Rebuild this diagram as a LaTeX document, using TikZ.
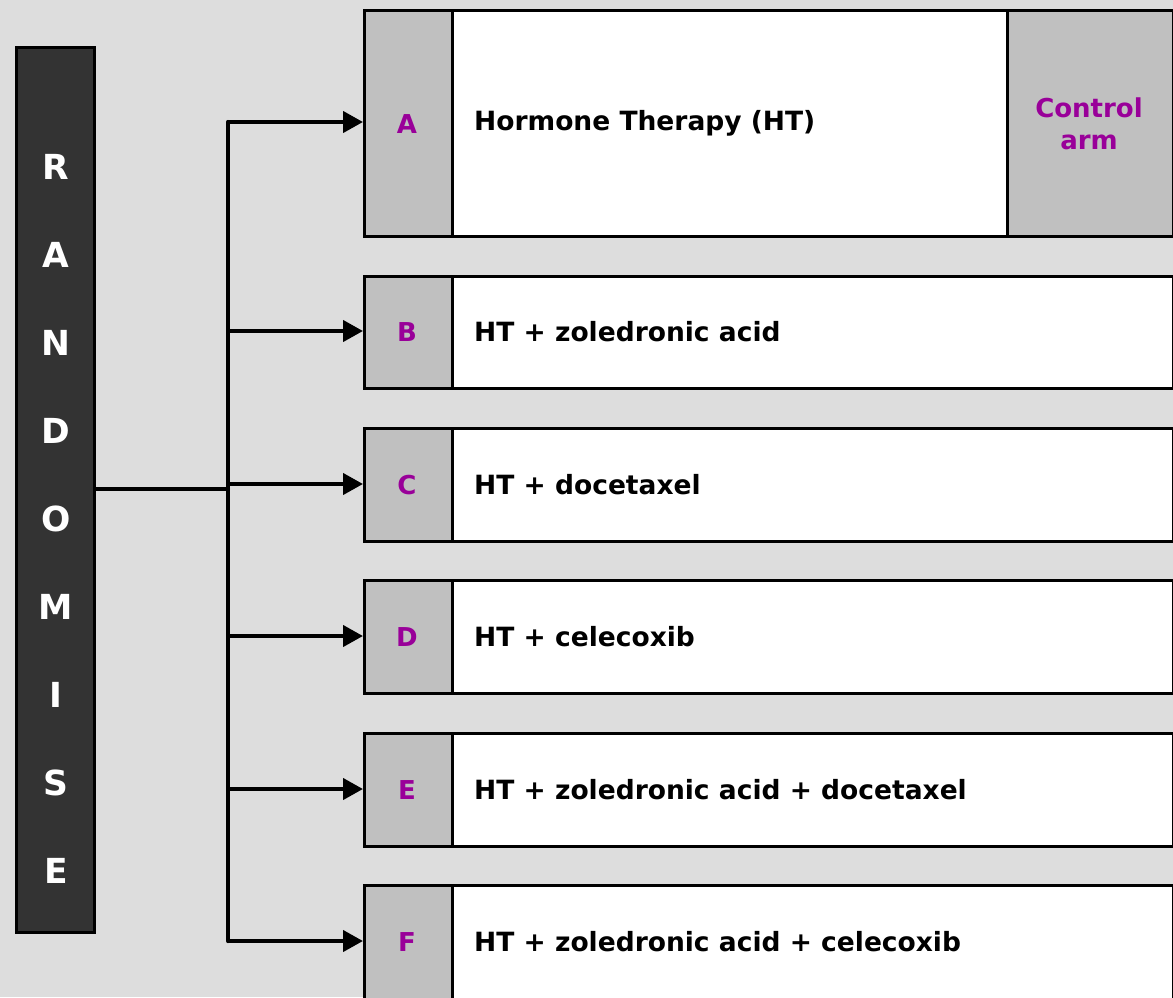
\documentclass[tikz,border=0pt]{standalone}
\usepackage{fontspec}
\setmainfont{DejaVu Sans}
\usetikzlibrary{arrows.meta}
\definecolor{bg}{HTML}{DDDDDD}
\definecolor{dark}{HTML}{333333}
\definecolor{tab}{HTML}{C0C0C0}
\definecolor{armpurple}{HTML}{990099}
\tikzset{
  panel/.style={draw=black, line width=3pt, fill=white},
  tabcell/.style={draw=black, line width=3pt, fill=tab},
  armlabel/.style={font=\bfseries\fontsize{26}{30}\selectfont, text=armpurple},
  armtext/.style={font=\bfseries\fontsize{26.5}{30}\selectfont, anchor=west, inner sep=0pt},
  randletter/.style={font=\bfseries\fontsize{34.5}{38}\selectfont, text=white},
  flow/.style={line width=4.2pt, -{Triangle[length=20pt,width=21pt]}},
  trunk/.style={line width=4.2pt, line cap=round, line join=round}
}
\begin{document}
\begin{tikzpicture}[x=1pt,y=-1pt]
  \fill[bg] (0,0) rectangle (1173,997);
  \useasboundingbox (0,0) rectangle (1173,997);

  % randomisation column
  \node[draw=black, line width=3pt, fill=dark, minimum width=78pt, minimum height=885pt, inner sep=0pt]
    (rand) at (55,489.5) {};
  \foreach \l [count=\i] in {R,A,N,D,O,M,I,S,E}
    \node[randletter] (rl\i) at (56,{167+88*(\i-1)}) {\l};

  % arm boxes: name / top / bottom
  \foreach \n/\t/\b in {a/9/235, b/275/387, c/427/540, d/579/692, e/732/845, f/884/1000}{
    \pgfmathsetmacro{\h}{\b-\t}
    \node[panel, minimum width=721pt, minimum height=\h pt, inner sep=0pt, anchor=north west]
      (\n) at (451,\t) {};
    \node[tabcell, minimum width=88pt, minimum height=\h pt, inner sep=0pt, anchor=north west]
      (\n tab) at (363,\t) {};
  }
  \node[tabcell, minimum width=166pt, minimum height=226pt, inner sep=0pt, anchor=north west]
    (ctrl) at (1006,9) {};
  \node[armlabel, align=center, font=\bfseries\fontsize{26}{32}\selectfont] (ctrltext) at (1089,124) {Control\\arm};

  \node[armlabel] (la) at (407,124) {A};
  \node[armlabel] (lb) at (407,332) {B};
  \node[armlabel] (lc) at (407,485) {C};
  \node[armlabel] (ld) at (407,637) {D};
  \node[armlabel] (le) at (407,790) {E};
  \node[armlabel] (lf) at (407,942) {F};

  \node[armtext] (ta) at (474,123) {Hormone Therapy (HT)};
  \node[armtext] (tb) at (474,332) {HT + zoledronic acid};
  \node[armtext] (tc) at (474,485) {HT + docetaxel};
  \node[armtext] (td) at (474,637) {HT + celecoxib};
  \node[armtext] (te) at (474,790) {HT + zoledronic acid + docetaxel};
  \node[armtext] (tf) at (474,942) {HT + zoledronic acid + celecoxib};

  % connectors
  \coordinate (j) at (228,489);
  \coordinate (top) at (228,122);
  \coordinate (bot) at (228,941);
  \coordinate (jb) at (228,331);
  \coordinate (jc) at (228,484);
  \coordinate (jd) at (228,636);
  \coordinate (je) at (228,789);
  \draw[trunk] (rand.east |- j) -- (j);
  \draw[trunk] (top) -- (bot);
  \draw[flow] (top) -- (atab.west |- top);
  \draw[flow] (jb) -- (btab.west |- jb);
  \draw[flow] (jc) -- (ctab.west |- jc);
  \draw[flow] (jd) -- (dtab.west |- jd);
  \draw[flow] (je) -- (etab.west |- je);
  \draw[flow] (bot) -- (ftab.west |- bot);
\end{tikzpicture}
\end{document}
